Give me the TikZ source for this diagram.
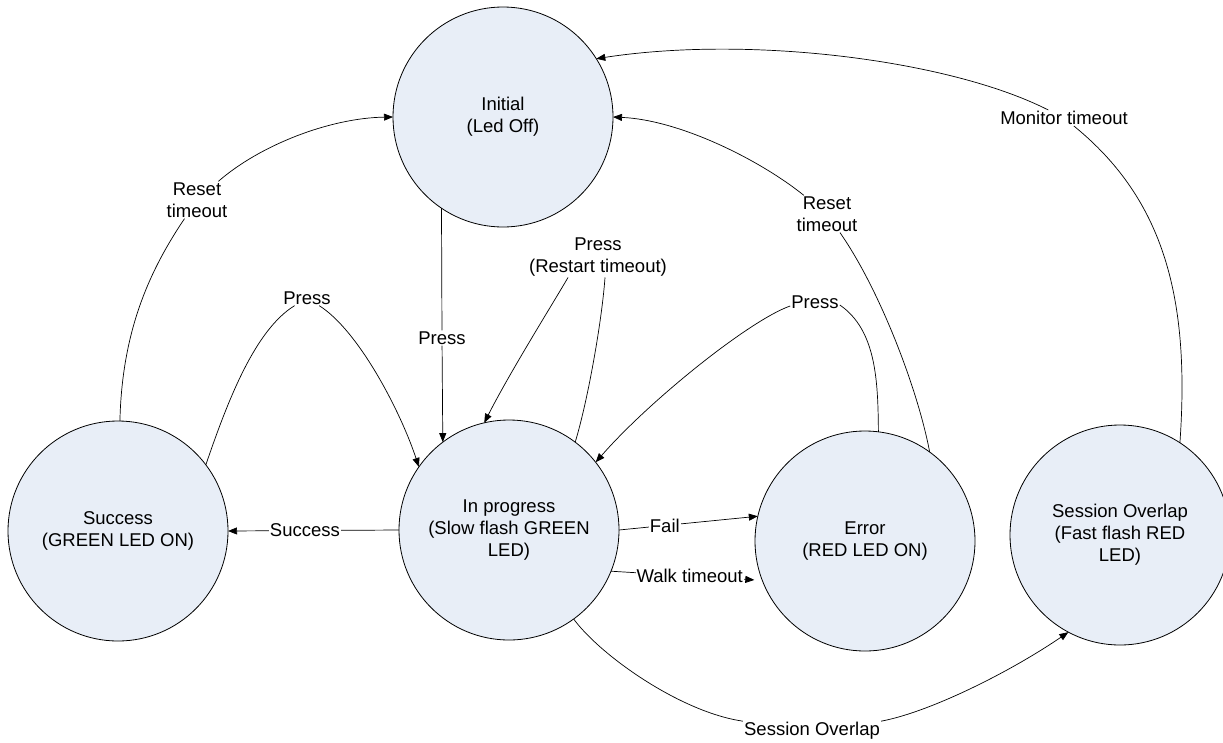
\documentclass[tikz,border=0pt]{standalone}
\usepackage{fontspec}
\setmainfont{Liberation Sans}
\usetikzlibrary{arrows.meta}
\definecolor{stfill}{RGB}{232,238,247}
\begin{document}
\begin{tikzpicture}[x=1pt,y=-1pt,
  state/.style={circle, draw=black, line width=0.8pt, fill=stfill, minimum size=220pt,
    inner sep=0pt, outer sep=0pt, align=center, font=\fontsize{18.5}{22}\selectfont},
  lbl/.style={inner sep=1pt, align=center, font=\fontsize{18.5}{22}\selectfont},
  conn/.style={line width=0.7pt},
  arr/.style={conn, -{Triangle[length=9pt,width=7pt]}}]
\useasboundingbox (0,0) rectangle (1223,742);

% states
\node[state] (I) at (503,117) {Initial\\(Led Off)};
\node[state] (S) at (118,531) {Success\\(GREEN LED ON)};
\node[state] (P) at (509,530) {In progress\\(Slow flash GREEN\\LED)};
\node[state] (E) at (865,541) {Error\\(RED LED ON)};
\node[state] (O) at (1120,535) {Session Overlap\\(Fast flash RED\\LED)};

% labels
\node[lbl] (lR1) at (197,200) {Reset\\timeout};
\node[lbl] (lP1) at (307,298) {Press};
\node[lbl] (lP0) at (442,338) {Press};
\node[lbl] (lP2) at (598,257) {Press\\(Restart timeout)};
\node[lbl] (lP3) at (815,302) {Press};
\node[lbl] (lR2) at (827,214) {Reset\\timeout};
\node[lbl] (lM) at (1064,118) {Monitor timeout};
\node[lbl] (lSes) at (812,731) {Session Overlap};

% Success -> Initial
\draw[conn] (S.89) .. controls (122,330) and (150,270) .. (lR1);
\draw[arr] (lR1) .. controls (260,145) and (330,118) .. (I.180);
% Success -> In progress
\draw[conn] (S.37) .. controls (228,400) and (255,330) .. (lP1);
\draw[arr] (lP1) .. controls (358,330) and (400,410) .. (P.145.3);
% Initial -> In progress
\draw[conn] (I.236.3) -- (lP0);
\draw[arr] (lP0) -- (P.127.6);
% In progress self loop
\draw[conn] (P.53.7) .. controls (588,400) and (602,320) .. ([xshift=7pt]lP2.south);
\draw[arr] ([xshift=-30pt]lP2.south) .. controls (555,300) and (510,372) .. (P.103.5);
% Error -> In progress
\draw[conn] (E.83.7) .. controls (878,380) and (876,330) .. ([yshift=-3pt]lP3.east);
\draw[arr] ([yshift=-4pt]lP3.west) .. controls (750,320) and (650,400) .. (P.38.5);
% Error -> Initial
\draw[conn] (E.54.7) .. controls (918,390) and (880,290) .. (lR2);
\draw[arr] (lR2) .. controls (760,160) and (680,120) .. (I.0);
% Session Overlap -> Initial
\draw[conn] (O.57.2) .. controls (1190,300) and (1165,200) .. (lM);
\draw[arr] (lM) .. controls (950,60) and (750,35) .. (I.32.5);
% In progress -> Session Overlap
\draw[conn] (P.-54.7) .. controls (600,655) and (680,712) .. (lSes.north west);
\draw[arr] (lSes.north east) .. controls (930,712) and (1010,672) .. (O.242);
% straight transitions
\draw[arr] (P.180) -- node[lbl, fill=white, pos=0.55] (lS) {Success} (S.0);
\draw[arr] (P.0) -- node[lbl, fill=white, pos=0.33] (lF) {Fail} (E.167.7);
\draw[arr, shorten >=8pt] (P.-22.7) -- node[lbl, fill=white, pos=0.52] (lW) {Walk timeout} (E.201.9);
\end{tikzpicture}
\end{document}
